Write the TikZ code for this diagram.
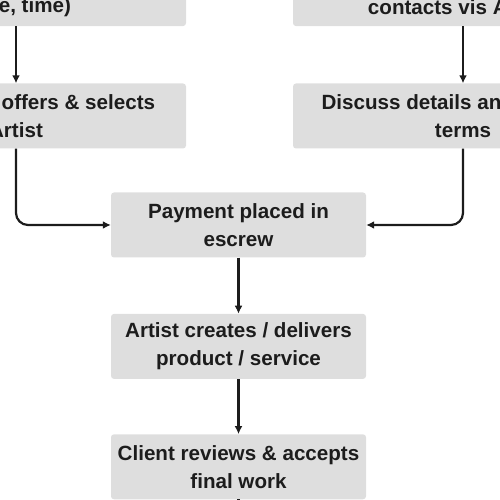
\documentclass[tikz,border=0pt]{standalone}
\usepackage{fontspec}
\setmainfont{Liberation Sans}
\usetikzlibrary{positioning,arrows.meta}
\definecolor{boxgray}{HTML}{DEDEDE}
\definecolor{ink}{HTML}{1C1C1C}
\begin{document}
\begin{tikzpicture}[x=1pt,y=1pt,
	block/.style={fill=boxgray,rounded corners=3pt,minimum width=255pt,minimum height=65pt,inner sep=0pt,align=center,text=ink,font=\bfseries\fontsize{20.6}{28}\selectfont},
	wide/.style={block,minimum width=340pt},
	link/.style={draw=ink,line width=2.2pt,-{Latex[length=8pt,width=8pt]}},
	node distance=56pt]
	\useasboundingbox (0,0) rectangle (500,500);
	\clip (0,0) rectangle (500,500);
	\node (pay)   [block]               at (238.5,275) {Payment placed in\\escrew};
	\node (make)  [block,below=of pay]             {Artist creates / delivers\\product / service};
	\node (check) [block,below=55pt of make]       {Client reviews \& accepts\\final work};
	\node (offer) [wide]                at (16,384)    {Client views offers \& selects\\Artist};
	\node (talk)  [wide]                at (463,384)   {Discuss details and payment\\terms};
	\node (post)  [wide,above=57pt of offer]       {Client posts a job\\(date, time)};
	\node (find)  [wide,above=57pt of talk]        {Client browses and\\contacts vis Artists};
	\coordinate[below=40pt of check] (next);
	
	\draw[link] (post) -- (offer);
	\draw[link] (find) -- (talk);
	\draw[link,rounded corners=12pt] (offer) |- (pay);
	\draw[link,rounded corners=12pt] (talk) |- (pay);
	\draw[link] (pay) -- (make);
	\draw[link] (make) -- (check);
	\draw[link] (check) -- (next);
\end{tikzpicture}
\end{document}
